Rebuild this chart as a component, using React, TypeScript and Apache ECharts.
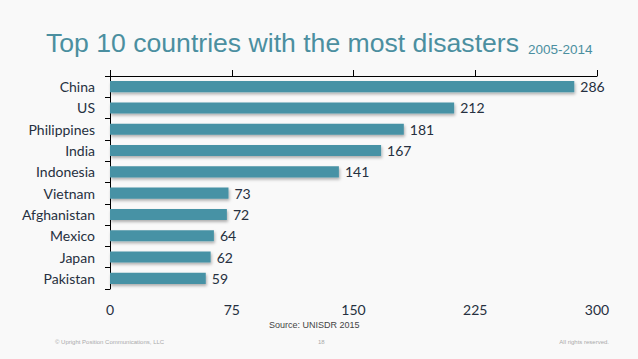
import React, { useEffect, useRef } from "react";
import * as echarts from "echarts";

const countries = ["China", "US", "Philippines", "India", "Indonesia", "Vietnam", "Afghanistan", "Mexico", "Japan", "Pakistan"];
const disasters = [286, 212, 181, 167, 141, 73, 72, 64, 62, 59];
const titleText = "Top 10 countries with the most disasters";
const subtitleText = "2005-2014";
const sourceText = "Source: UNISDR 2015";
const footerLeft = "© Upright Position Communications, LLC";
const footerCenter = "18";
const footerRight = "All rights reserved.";

export default function App() {
  const ref = useRef<HTMLDivElement>(null);
  useEffect(() => {
    if (!ref.current) return;
    const chart = echarts.init(ref.current, null, { renderer: "svg" });
    const labelFont = "Lato, 'Open Sans', sans-serif";
    const textColor = "#263040";
    chart.setOption({
      animation: false,
      backgroundColor: "#f9f9f9",
      grid: { left: 110, right: 41, top: 76, bottom: 70, containLabel: false },
      xAxis: [
        {
          type: "value",
          position: "top",
          min: 0,
          max: 300,
          interval: 75,
          axisLine: { show: true, lineStyle: { color: "#000", width: 1 } },
          axisTick: { show: true, length: 6, lineStyle: { color: "#000" } },
          axisLabel: { show: false },
          splitLine: { show: false },
        },
        {
          type: "value",
          position: "bottom",
          min: 0,
          max: 300,
          interval: 75,
          axisLine: { show: false },
          axisTick: { show: false },
          axisLabel: { show: true, margin: 13, fontSize: 14, lineHeight: 14, fontFamily: labelFont, color: textColor },
          splitLine: { show: false },
        },
      ],
      yAxis: {
        type: "category",
        inverse: true,
        data: countries,
        axisLine: { show: true, lineStyle: { color: "#000", width: 1 } },
        axisTick: { show: true, length: 5, lineStyle: { color: "#000" } },
        axisLabel: { margin: 15, fontSize: 14, fontFamily: labelFont, color: textColor },
      },
      series: [
        {
          type: "bar",
          xAxisIndex: 0,
          data: disasters,
          barCategoryGap: "48%",
          itemStyle: {
            color: "#4792a5",
            shadowColor: "rgba(0,0,0,0.3)",
            shadowBlur: 3,
            shadowOffsetX: 1,
            shadowOffsetY: 2,
          },
          label: {
            show: true,
            position: "right",
            distance: 6,
            fontSize: 14,
            fontFamily: labelFont,
            color: textColor,
          },
        },
      ],
      graphic: [
        {
          type: "text",
          left: 46,
          top: 29,
          style: {
            text: titleText,
            font: "26.6px 'Liberation Sans', Arial, sans-serif",
            fill: "#4b8fa0",
          },
        },
        {
          type: "text",
          left: 528,
          top: 42,
          style: {
            text: subtitleText,
            font: "13.5px 'Liberation Sans', Arial, sans-serif",
            fill: "#4b8fa0",
          },
        },
        {
          type: "text",
          left: 269,
          top: 320,
          style: {
            text: sourceText,
            font: "9px 'Liberation Sans', Arial, sans-serif",
            fill: "#444",
          },
        },
        {
          type: "text",
          left: 55,
          top: 339,
          style: {
            text: footerLeft,
            font: "6px 'Liberation Sans', Arial, sans-serif",
            fill: "#aaa",
          },
        },
        {
          type: "text",
          left: 318,
          top: 339,
          style: {
            text: footerCenter,
            font: "6px 'Liberation Sans', Arial, sans-serif",
            fill: "#aaa",
          },
        },
        {
          type: "text",
          right: 29,
          top: 339,
          style: {
            text: footerRight,
            font: "6px 'Liberation Sans', Arial, sans-serif",
            fill: "#aaa",
          },
        },
      ],
    });
    return () => chart.dispose();
  }, []);
  return <div ref={ref} style={{ width: 638, height: 359, position: "fixed", left: 0, top: 0 }} />;
}
